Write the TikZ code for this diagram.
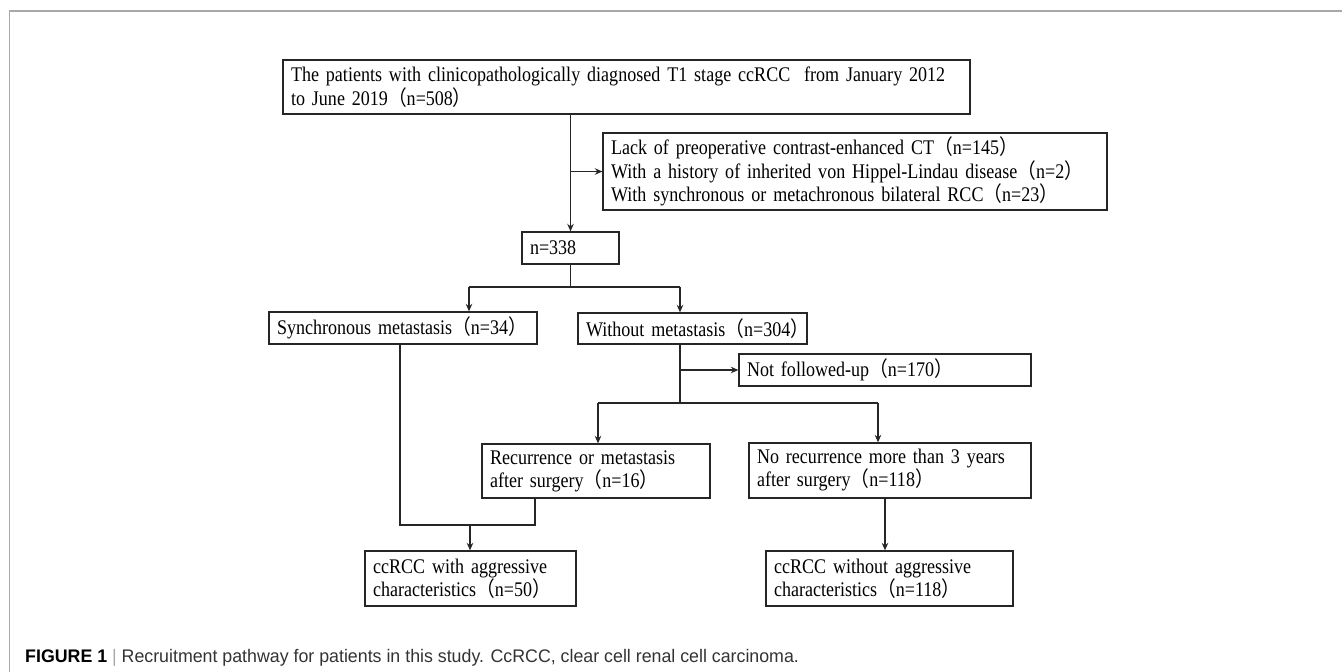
\documentclass[tikz,border=0pt]{standalone}
\usepackage{fontspec}
\setmainfont{Liberation Serif}[FakeStretch=0.867]
\setsansfont{Liberation Sans}[FakeStretch=0.977]
\newfontfamily\cjkf{Noto Sans CJK SC}[FakeStretch=0.9]
\usetikzlibrary{arrows.meta}
\newcommand\zlp{{\cjkf （}}
\newcommand\zrp{{\cjkf ）}}
\definecolor{ln}{HTML}{262626}
\definecolor{framec}{HTML}{A8A8A8}
\definecolor{capc}{HTML}{333333}
\begin{document}
\begin{tikzpicture}[x=1pt,y=-1pt,
  bx/.style={draw=ln, line width=1.3pt, rectangle, inner xsep=8pt, inner ysep=0pt,
    align=left, font=\fontsize{20.8}{23}\selectfont, text=black},
  conn/.style={draw=ln, line width=1.3pt},
  arr/.style={conn, -{Stealth[length=7.5pt,width=6.5pt]}}]
\useasboundingbox (0,0) rectangle (1342,672);
% frame
\draw[framec, line width=1pt] (9,672) -- (9,11);
\draw[framec, line width=2pt] (8.5,11) -- (1342,11);
% boxes
\node[bx, text width=671pt, minimum height=54pt, font=\fontsize{20.8}{24}\selectfont] (b1) at (626.5,87)
  {\mbox{The patients with clinicopathologically diagnosed T1 stage ccRCC\ \ from January 2012}\\\mbox{to June 2019\zlp n=508\zrp}};
\node[bx, text width=488pt, minimum height=77pt, font=\fontsize{20.8}{21.5}\selectfont] (excl) at (855,171.5)
  {\mbox{Lack of preoperative contrast-enhanced CT\zlp n=145\zrp}\\
   \mbox{With a history of inherited von Hippel-Lindau disease\zlp n=2\zrp}\\
   \mbox{With synchronous or metachronous bilateral RCC\zlp n=23\zrp}};
\node[bx, text width=81pt, minimum height=32pt] (n338) at (570.5,248) {\mbox{n=338}};
\node[bx, text width=252pt, minimum height=32pt] (sync) at (403,328) {\mbox{Synchronous metastasis\zlp n=34\zrp}};
\node[bx, text width=213pt, minimum height=31pt] (without) at (692.5,328.5) {\mbox{Without metastasis\zlp n=304\zrp}};
\node[bx, text width=276pt, minimum height=32pt] (notf) at (885,370) {\mbox{Not followed-up\zlp n=170\zrp}};
\node[bx, text width=212pt, minimum height=54pt] (recur) at (596,471)
  {\mbox{Recurrence or metastasis}\\\mbox{after surgery\zlp n=16\zrp}};
\node[bx, text width=266pt, minimum height=55pt] (norec) at (890,470.5)
  {\mbox{No recurrence more than 3 years}\\\mbox{after surgery\zlp n=118\zrp}};
\node[bx, text width=195pt, minimum height=55pt] (agg) at (470.5,578.5)
  {\mbox{ccRCC with aggressive}\\\mbox{characteristics\zlp n=50\zrp}};
\node[bx, text width=231pt, minimum height=55pt] (nonagg) at (889.5,578.5)
  {\mbox{ccRCC without aggressive}\\\mbox{characteristics\zlp n=118\zrp}};
% connectors
\draw[arr] (b1.south -| n338) -- (n338.north);
\draw[arr] (excl.west -| n338) -- (excl.west);
\coordinate (j1) at (570.5,287);
\coordinate (s1) at (469,287);
\coordinate (w1) at (680,287);
\draw[conn] (n338.south) -- (j1);
\draw[conn] (s1) -- (w1);
\draw[arr] (s1) -- (s1 |- sync.north);
\draw[arr] (w1) -- (w1 |- without.north);
\coordinate (w2) at (680,403);
\draw[conn] (w1 |- without.south) -- (w2);
\draw[arr] (notf.west -| w2) -- (notf.west);
\coordinate (r1) at (598,403);
\coordinate (r2) at (878,403);
\draw[conn] (r1) -- (r2);
\draw[arr] (r1) -- (r1 |- recur.north);
\draw[arr] (r2) -- (r2 |- norec.north);
\coordinate (sd) at (400,525);
\coordinate (rd) at (535,525);
\draw[conn] (sd |- sync.south) -- (sd) -- (rd) -- (rd |- recur.south);
\coordinate (ad) at (470,525);
\draw[arr] (ad) -- (ad |- agg.north);
\coordinate (nd) at (885,520);
\draw[arr] (nd |- norec.south) -- (nd |- nonagg.north);
% caption
\node[anchor=west, inner sep=0pt, font=\sffamily\fontsize{18.2}{20}\selectfont, text=capc] (cap) at (25,658)
  {\textcolor{black}{\textbf{FIGURE 1}}\ \textcolor{framec}{|}\ Recruitment pathway for patients in this study. CcRCC, clear cell renal cell carcinoma.};
\end{tikzpicture}
\end{document}
